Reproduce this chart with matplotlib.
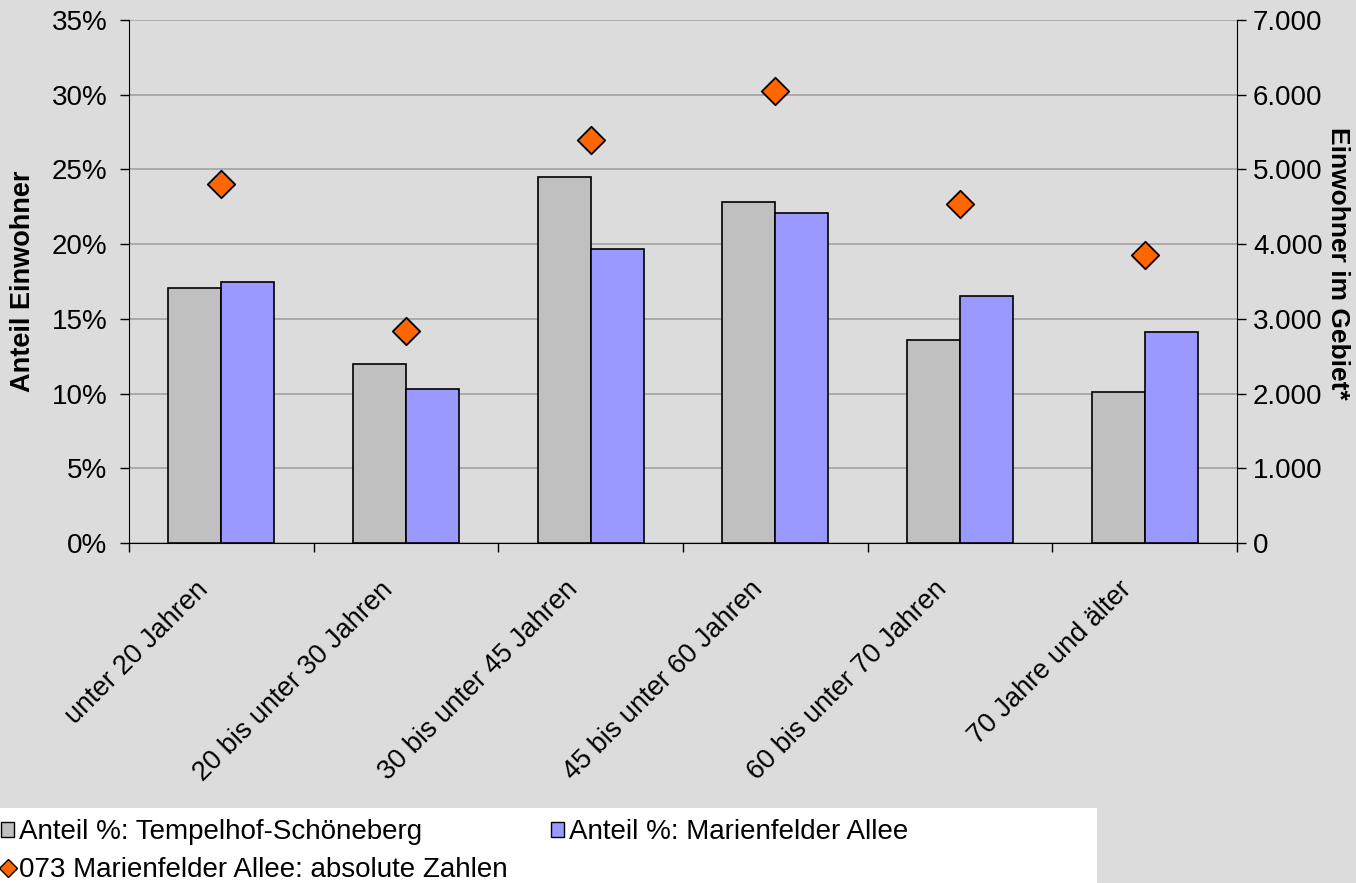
import numpy as np
import matplotlib.pyplot as plt
from matplotlib.lines import Line2D
from matplotlib.patches import Patch, Rectangle
from matplotlib.ticker import FuncFormatter
from matplotlib.transforms import ScaledTranslation

kategorien = ["unter 20 Jahren", "20 bis unter 30 Jahren", "30 bis unter 45 Jahren",
              "45 bis unter 60 Jahren", "60 bis unter 70 Jahren", "70 Jahre und älter"]
anteil_ts = [17.1, 12.0, 24.5, 22.8, 13.6, 10.1]
anteil_ma = [17.5, 10.3, 19.7, 22.1, 16.5, 14.1]
absolut_ma = [4810, 2840, 5395, 6055, 4535, 3860]

plt.rcParams['font.family'] = ['Liberation Sans', 'DejaVu Sans']
bg = '#dcdcdc'

fig = plt.figure(figsize=(13.56, 8.83), dpi=100, facecolor=bg)
ax = fig.add_axes([0.0951, 0.385, 0.8171, 0.5923])
ax.set_facecolor(bg)
ax2 = ax.twinx()

x = np.arange(len(kategorien))
w = 0.287
ax.bar(x - w / 2, anteil_ts, w, color='#c0c0c0', edgecolor='black', linewidth=1.2, zorder=3)
ax.bar(x + w / 2, anteil_ma, w, color='#9999ff', edgecolor='black', linewidth=1.2, zorder=3)
ax2.scatter(x, absolut_ma, marker='D', s=195, color='#ff6600', edgecolor='black',
            linewidth=1.3, zorder=4)

ax.set_xlim(-0.5, len(kategorien) - 0.5)
ax.set_ylim(0, 35)
ax2.set_ylim(0, 7000)
ax.set_yticks(np.arange(0, 36, 5))
ax.yaxis.set_major_formatter(FuncFormatter(lambda v, p: '{:.0f}%'.format(v)))
ax2.set_yticks(np.arange(0, 7001, 1000))
ax2.yaxis.set_major_formatter(FuncFormatter(lambda v, p: '{:,.0f}'.format(v).replace(',', '.')))
ax.grid(axis='y', color='#a6a6a6', linewidth=1.3, zorder=0)
ax.set_axisbelow(True)

# Ticks an den Kategoriegrenzen, Beschriftung mittig
ax.set_xticks(np.arange(-0.5, len(kategorien), 1))
ax.set_xticklabels([])
ax.set_xticks(x, minor=True)
ax.set_xticklabels(kategorien, minor=True, rotation=45, ha='right', rotation_mode='anchor',
                   fontsize=19.5)
ax.tick_params(axis='x', which='minor', length=0, pad=14)
ax.tick_params(axis='x', which='major', length=6.5, width=1)
ax.tick_params(axis='y', labelsize=20, length=6.5, width=1, pad=9)
ax2.tick_params(axis='y', labelsize=20, length=6.5, width=1, pad=5)
verschiebung = ScaledTranslation(-0.26, -0.14, fig.dpi_scale_trans)
for lab in ax.get_xticklabels(minor=True):
    lab.set_transform(lab.get_transform() + verschiebung)

for a in (ax, ax2):
    a.spines['top'].set_visible(False)
    for s in ('left', 'right', 'bottom'):
        a.spines[s].set_color('black')
ax.spines['right'].set_visible(False)
ax2.spines['left'].set_visible(False)
ax2.spines['bottom'].set_visible(False)

ax.set_ylabel('Anteil Einwohner', fontsize=19.5, fontweight='bold', va='center')
ax.yaxis.set_label_coords(-0.0957, 0.50)
ax2.set_ylabel('Einwohner im Gebiet*', fontsize=19, fontweight='bold', rotation=-90,
               va='center')
ax2.yaxis.set_label_coords(1.0912, 0.534)

# weisser Legendenkasten unten links
fig.patches.append(Rectangle((0, 0), 1097 / 1356, 75 / 883, transform=fig.transFigure,
                             facecolor='white', edgecolor='none', zorder=1))

handles = [Patch(facecolor='#c0c0c0', edgecolor='black'),
           Line2D([], [], marker='D', color='none', markerfacecolor='#ff6600',
                  markeredgecolor='black', markersize=9),
           Patch(facecolor='#9999ff', edgecolor='black')]
labels = ['Anteil %: Tempelhof-Schöneberg', '073 Marienfelder Allee: absolute Zahlen',
          'Anteil %: Marienfelder Allee']
leg = fig.legend(handles, labels, ncol=2, loc='upper left', bbox_to_anchor=(0.001, 0.072),
                 fontsize=20, frameon=False, handlelength=0.45, handleheight=0.45,
                 handletextpad=0.2, columnspacing=1.55, labelspacing=0.42,
                 borderpad=0, borderaxespad=0)
leg.set_zorder(2)

fig.savefig('out.png', dpi=100, facecolor=bg)
